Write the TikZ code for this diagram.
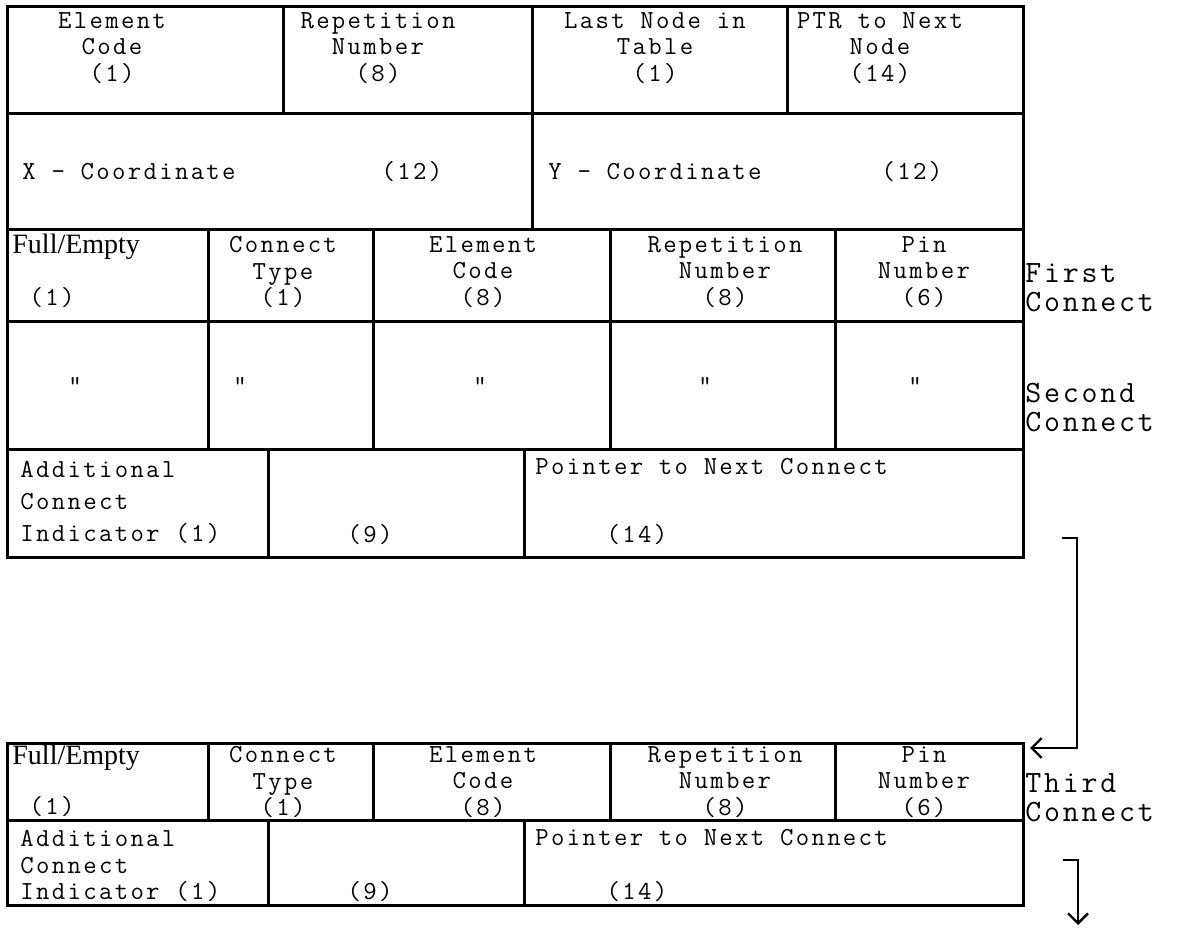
\documentclass[tikz,border=0pt]{standalone}
\usepackage{fontspec}
\setmonofont[LetterSpace=9]{Latin Modern Mono}
\newfontfamily\fieldserif{Liberation Serif}
\usetikzlibrary{arrows.meta}
\newcommand{\ditto}{\symbol{34}}

\begin{document}
\begin{tikzpicture}[
  x=0.5pt, y=-0.5pt,
  >={Straight Barb[length=5pt,width=10pt]},
  every node/.style={font=\ttfamily\fontsize{13}{13.25}\selectfont, inner sep=0pt},
  grid/.style={line width=1.5pt},
  fld/.style={align=center},
  fldl/.style={align=left, anchor=west},
  fldind/.style={align=left, anchor=west, font=\ttfamily\fontsize{13}{16}\selectfont},
  fldfe/.style={anchor=west, font=\fieldserif\fontsize{14}{14}\selectfont},
  side/.style={align=left, anchor=west, font=\ttfamily\fontsize{15.5}{14.5}\selectfont},
  link/.style={->, line width=1.2pt},
]
  \useasboundingbox (0,0) rectangle (1187,929);

  % node record
  \draw[grid] (7,7) rectangle (1023,558);
  \foreach \y in {114,230,322,450}
    \draw[grid] (7,\y) -- (1023,\y);
  \foreach \x in {283,532,787}
    \draw[grid] (\x,7) -- (\x,114);
  \draw[grid] (532,114) -- (532,230);
  \foreach \x in {208,373,610,835}
    \draw[grid] (\x,230) -- (\x,450);
  \foreach \x in {268,524}
    \draw[grid] (\x,450) -- (\x,558);

  % connect record
  \draw[grid] (7,743) rectangle (1023,905);
  \draw[grid] (7,820) -- (1023,820);
  \foreach \x in {208,373,610,835}
    \draw[grid] (\x,743) -- (\x,820);
  \foreach \x in {268,524}
    \draw[grid] (\x,820) -- (\x,905);

  % header fields
  \node[fld] (elcode)   at (112,48) {Element\\Code\\(1)};
  \node[fld] (repnum)   at (378,48) {Repetition\\Number\\(8)};
  \node[fld] (lastnode) at (655,48) {Last Node in\\Table\\(1)};
  \node[fld] (ptrnode)  at (880,48) {PTR to Next\\Node\\(14)};

  \node[fldl] (xcoord) at (22,172) {X - Coordinate};
  \node (xbits) at (412,172) {(12)};
  \node[fldl] (ycoord) at (548,172) {Y - Coordinate};
  \node (ybits) at (912,172) {(12)};

  % first connect
  \node[fldfe] (fullempty1) at (12,247) {Full/Empty};
  \node (febits1) at (52,298) {(1)};
  \node[fld] (ctype1) at (283,272) {Connect\\Type\\(1)};
  \node[fld] (ecode1) at (483,272) {Element\\Code\\(8)};
  \node[fld] (rnum1)  at (725,272) {Repetition\\Number\\(8)};
  \node[fld] (pin1)   at (924,272) {Pin\\Number\\(6)};
  \node[side] (first) at (1025,288) {First\\Connect};

  % second connect
  \foreach \x/\n in {75/fe,240/ct,480/ec,705/rn,915/pn}
    \node (ditto\n) at (\x,385) {\ditto};
  \node[side] (second) at (1025,408) {Second\\Connect};

  \node[fldind] (addind1) at (20,502) {Additional\\Connect\\Indicator (1)};
  \node (spare1) at (370,535) {(9)};
  \node[fldl] (ptrcon1) at (535,467) {Pointer to Next Connect};
  \node (ptrbits1) at (637,535) {(14)};

  % third connect
  \node[fldfe] (fullempty3) at (12,758) {Full/Empty};
  \node (febits3) at (52,807) {(1)};
  \node[fld] (ctype3) at (283,782) {Connect\\Type\\(1)};
  \node[fld] (ecode3) at (483,782) {Element\\Code\\(8)};
  \node[fld] (rnum3)  at (725,782) {Repetition\\Number\\(8)};
  \node[fld] (pin3)   at (924,782) {Pin\\Number\\(6)};
  \node[side] (third) at (1025,798) {Third\\Connect};

  \node[fldl] (addind3) at (20,866) {Additional\\Connect\\Indicator (1)};
  \node (spare3) at (370,892) {(9)};
  \node[fldl] (ptrcon3) at (535,838) {Pointer to Next Connect};
  \node (ptrbits3) at (637,892) {(14)};

  % links
  \coordinate (out1) at (1062,538);
  \coordinate (in3) at (1030,748);
  \coordinate (out3) at (1063,860);
  \coordinate (down3) at (1078,925);
  \draw[link] (out1) -- (1077,538) -- (1077,748) -- (in3);
  \draw[link] (out3) -| (down3);
\end{tikzpicture}
\end{document}
